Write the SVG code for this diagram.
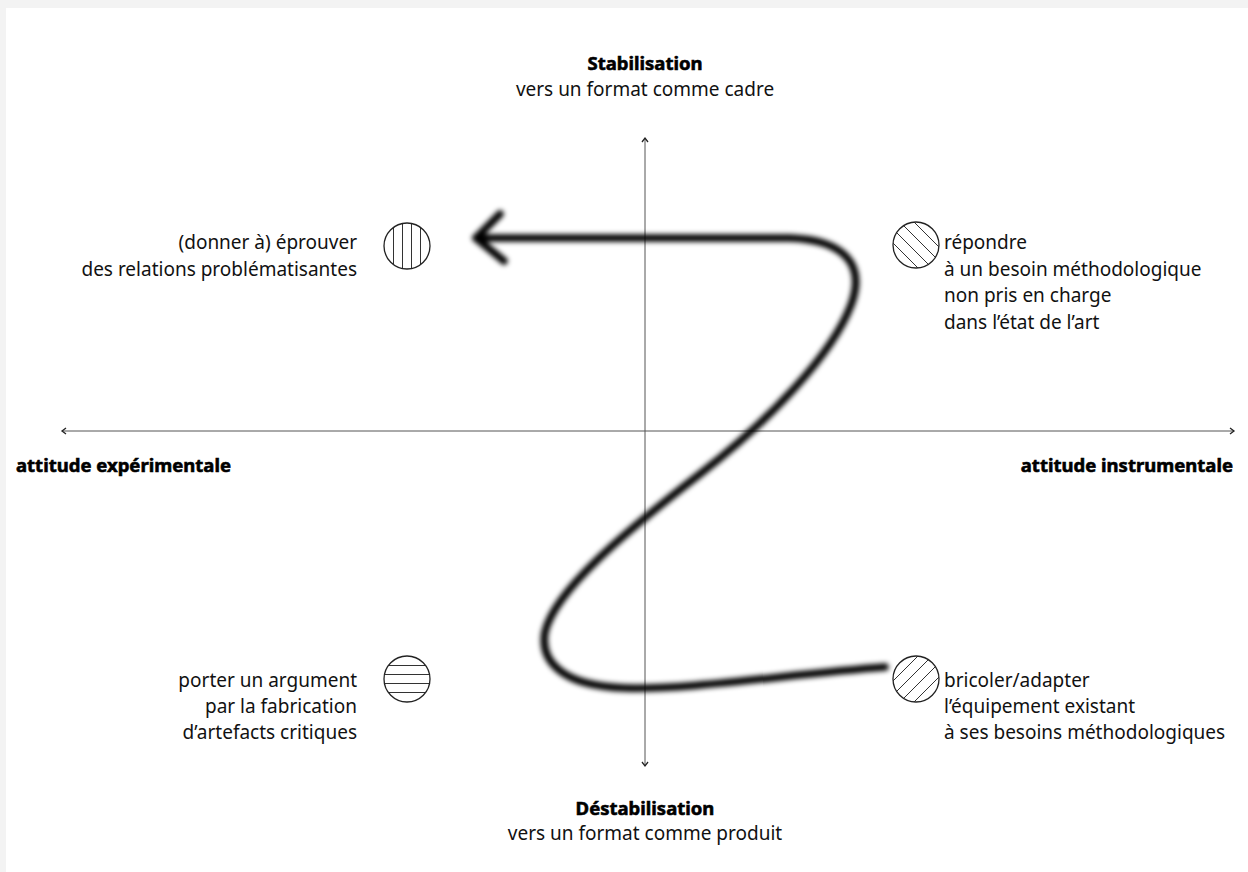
<svg xmlns="http://www.w3.org/2000/svg" width="1248" height="872" viewBox="0 0 1248 872">
<defs>
<style>
.t{font-family:"Noto Sans","Open Sans","DejaVu Sans",sans-serif;font-size:19px;fill:#111}
.b{font-family:"Noto Sans","Open Sans","DejaVu Sans",sans-serif;font-size:18.5px;font-weight:700;fill:#000;stroke:#000;stroke-width:0.6}
.ax{stroke:#555;stroke-width:1;fill:none}
.ah{stroke:#222;stroke-width:1.3;fill:none}
.c{fill:none;stroke:#222;stroke-width:1.3}
.h{stroke:#333;stroke-width:1}
</style>
<filter id="blur" x="-10%" y="-10%" width="120%" height="120%"><feGaussianBlur stdDeviation="2.8"/></filter>
<clipPath id="c1"><circle cx="407" cy="246" r="23"/></clipPath>
<clipPath id="c2"><circle cx="916" cy="245" r="23"/></clipPath>
<clipPath id="c3"><circle cx="407" cy="679" r="23"/></clipPath>
<clipPath id="c4"><circle cx="916" cy="679" r="23"/></clipPath>
</defs>
<rect width="1248" height="872" fill="#f3f3f3"/>
<rect x="6" y="8" width="1242" height="864" fill="#fff"/>

<g id="connectors">
<g id="axes">
<line class="ax" x1="645" y1="138" x2="645" y2="766"/>
<path class="ah" d="M642,142 L645,138 L648,142"/>
<path class="ah" d="M642,762 L645,766 L648,762"/>
<line class="ax" x1="62" y1="431" x2="1234" y2="431"/>
<path class="ah" d="M66,428 L62,431 L66,434"/>
<path class="ah" d="M1230,428 L1234,431 L1230,434"/>
</g>
<g id="path-curve" filter="url(#blur)" stroke="#000" stroke-width="7.5" fill="none" stroke-linecap="round" stroke-linejoin="round">
<path d="M885,667 C790,674 690,690 625,688 C560,686 540,660 545,632 C555,590 625,532 700,474 C770,420 832,355 851,305 C866,265 845,240 790,238 L476,238"/>
<path d="M500,214 L476,238 L504,261"/>
</g>
</g>

<g id="top-label">
<text class="b" x="645" y="70" text-anchor="middle">Stabilisation</text>
<text class="t" x="645" y="96" text-anchor="middle">vers un format comme cadre</text>
</g>
<g id="bottom-label">
<text class="b" x="645" y="815" text-anchor="middle">Déstabilisation</text>
<text class="t" x="645" y="840" text-anchor="middle">vers un format comme produit</text>
</g>
<g id="left-label"><text class="b" x="16" y="472">attitude expérimentale</text></g>
<g id="right-label"><text class="b" x="1233" y="472" text-anchor="end">attitude instrumentale</text></g>

<g id="node-top-left">
<g clip-path="url(#c1)" class="h">
<line x1="393.5" y1="220" x2="393.5" y2="272"/><line x1="402.5" y1="220" x2="402.5" y2="272"/><line x1="411.5" y1="220" x2="411.5" y2="272"/><line x1="420.5" y1="220" x2="420.5" y2="272"/>
</g>
<circle class="c" cx="407" cy="246" r="23"/>
<text class="t" x="357" y="249" text-anchor="end">(donner à) éprouver</text>
<text class="t" x="357" y="276" text-anchor="end">des relations problématisantes</text>
</g>

<g id="node-top-right">
<g clip-path="url(#c2)" class="h">
<line x1="880" y1="188" x2="952" y2="260"/><line x1="880" y1="202" x2="952" y2="274"/><line x1="880" y1="216" x2="952" y2="288"/><line x1="880" y1="230" x2="952" y2="302"/>
</g>
<circle class="c" cx="916" cy="245" r="23"/>
<text class="t" x="944" y="249">répondre</text>
<text class="t" x="944" y="276">à un besoin méthodologique</text>
<text class="t" x="944" y="302">non pris en charge</text>
<text class="t" x="944" y="329">dans l’état de l’art</text>
</g>

<g id="node-bottom-left">
<g clip-path="url(#c3)" class="h">
<line x1="380" y1="665.5" x2="434" y2="665.5"/><line x1="380" y1="674.5" x2="434" y2="674.5"/><line x1="380" y1="683.5" x2="434" y2="683.5"/><line x1="380" y1="692.5" x2="434" y2="692.5"/>
</g>
<circle class="c" cx="407" cy="679" r="23"/>
<text class="t" x="357" y="687" text-anchor="end">porter un argument</text>
<text class="t" x="357" y="713" text-anchor="end">par la fabrication</text>
<text class="t" x="357" y="739" text-anchor="end">d’artefacts critiques</text>
</g>

<g id="node-bottom-right">
<g clip-path="url(#c4)" class="h">
<line x1="880" y1="694" x2="952" y2="622"/><line x1="880" y1="708" x2="952" y2="636"/><line x1="880" y1="722" x2="952" y2="650"/><line x1="880" y1="736" x2="952" y2="664"/>
</g>
<circle class="c" cx="916" cy="679" r="23"/>
<text class="t" x="944" y="687">bricoler/adapter</text>
<text class="t" x="944" y="713">l’équipement existant</text>
<text class="t" x="944" y="739">à ses besoins méthodologiques</text>
</g>
</svg>
